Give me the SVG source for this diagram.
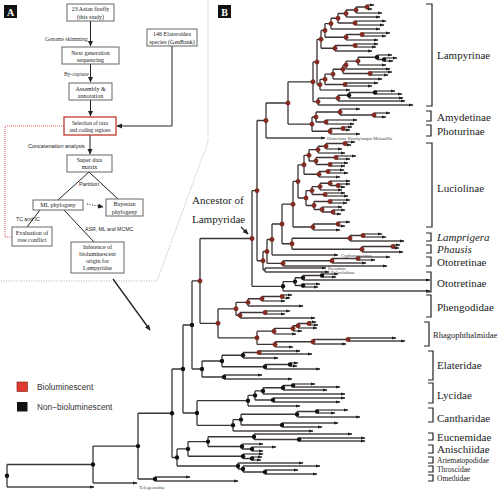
<svg xmlns="http://www.w3.org/2000/svg" width="500" height="500" viewBox="0 0 500 500">
<style>
.e{fill:none;stroke:#3d3535;stroke-width:1.3}
.lf{fill:none;stroke:#4a4444;stroke-width:1.3;marker-end:url(#tip)}
.rn circle{fill:#8a2a20;stroke:#5a1810;stroke-width:.4;r:2.2px}
.bn circle{fill:#111;r:2.2px}
.bx{fill:#fff;stroke:#666;stroke-width:1}
.bt{font-family:"Liberation Serif",serif;font-size:6px;fill:#222;text-anchor:middle}
.bt5{font-size:5.4px}
.sl{font-family:"Liberation Serif",serif;font-size:5.6px;fill:#333}
.ss{font-family:"Liberation Sans",sans-serif;font-size:5.2px;fill:#222}
.ss5{font-size:5.5px}
.ar{fill:none;stroke:#222;stroke-width:1;marker-end:url(#arw)}
.br{fill:none;stroke:#222;stroke-width:1.2}
.fl{font-family:"Liberation Serif",serif;font-size:11px;fill:#222}
.f85{font-size:8.5px}
.f75{font-size:7.5px}
.tl{font-family:"Liberation Serif",serif;font-size:4.5px;fill:#444}
.lg{font-family:"Liberation Sans",sans-serif;font-size:8.3px;fill:#333}
.pl{font-family:"Liberation Serif",serif;font-size:10px;font-weight:bold;fill:#fff;text-anchor:middle}
</style>
<defs>
<marker id="tip" markerUnits="userSpaceOnUse" markerWidth="5" markerHeight="4" refX="4" refY="2" orient="auto"><path d="M0,0.4L4.5,2L0,3.6z" fill="#222"/></marker>
<marker id="arw" markerUnits="userSpaceOnUse" markerWidth="6" markerHeight="6" refX="5" refY="3" orient="auto"><path d="M0,0.5L5.5,3L0,5.5z" fill="#222"/></marker>
</defs>

<!-- Panel A -->
<g id="panelA">
<rect x="4" y="5" width="13" height="13" fill="#111"/><text class="pl" x="10.5" y="15.5">A</text>
<path d="M208,0V142L157,281H0" fill="none" stroke="#999" stroke-width="0.8" stroke-dasharray="1,1.5"/>
<path d="M64,126H5V237H12" fill="none" stroke="#d33" stroke-width="0.8" stroke-dasharray="1,1"/>
</g>
<g id="a-connectors">
<path class="ar" d="M90.5,21V46"/>
<path class="ar" d="M90.5,64V82"/>
<path class="ar" d="M90.5,100V116"/>
<path class="ar" d="M172,46V126H117"/>
<path class="ar" d="M90,135V154"/>
<path fill="none" stroke="#222" stroke-width="1" d="M89,172L58,200M89,172L118,199M40,210L27,227M64,210L94,242"/>
<path class="ar" d="M87,204L103,207" stroke-dasharray="1,1.5"/>
<path class="ar" d="M113,279L150,330" style="stroke-width:1.3"/>
<text class="sl" x="45" y="41">Genome skimming</text>
<text class="sl" x="64" y="76">By-capture</text>
<text class="ss ss5" x="28" y="148">Concatenation analysis</text>
<text class="ss ss5" x="79" y="186">Partition</text>
<text class="ss" x="16" y="221">TC and IC</text>
<text class="ss" x="85" y="231">ASR, ML and MCMC</text>
</g>
<g id="n-asian"><rect class="bx" x="67" y="4" width="47" height="17"/><text class="bt" x="90.5" y="11">23 Asian firefly</text><text class="bt" x="90.5" y="18.5">(this study)</text></g>
<g id="n-ngs"><rect class="bx" x="62" y="47" width="57" height="17"/><text class="bt" x="90.5" y="54.5">Next generation</text><text class="bt" x="90.5" y="62">sequencing</text></g>
<g id="n-assembly"><rect class="bx" x="69" y="83" width="43" height="17"/><text class="bt" x="90.5" y="90.5">Assembly &amp;</text><text class="bt" x="90.5" y="98">annotation</text></g>
<g id="n-selection"><rect x="64" y="117" width="52" height="18" fill="#fff" stroke="#c0392b" stroke-width="1.3"/><text class="bt bt5" x="90" y="125">Selection of taxa</text><text class="bt bt5" x="90" y="132">and coding regions</text></g>
<g id="n-genbank"><rect class="bx" x="147" y="29" width="50" height="17"/><text class="bt" x="172" y="35.5">146 Elateroidea</text><text class="bt" x="172" y="43.5">species (GenBank)</text></g>
<g id="n-matrix"><rect class="bx" x="67" y="155" width="45" height="17"/><text class="bt" x="89.5" y="161.5">Super data</text><text class="bt" x="89.5" y="169">matrix</text></g>
<g id="n-ml"><rect class="bx" x="33" y="200" width="50" height="10"/><text class="bt" x="58" y="207">ML phylogeny</text></g>
<g id="n-bayes"><rect class="bx" x="106" y="199" width="37" height="17"/><text class="bt" x="124.5" y="206">Bayesian</text><text class="bt" x="124.5" y="213.5">phylogeny</text></g>
<g id="n-eval"><rect class="bx" x="12" y="227" width="40" height="19"/><text class="bt" x="32" y="234.5">Evaluation of</text><text class="bt" x="32" y="242">tree conflict</text></g>
<g id="n-infer"><rect class="bx" x="71" y="242" width="53" height="31"/><text class="bt" x="97.5" y="249">Inference of</text><text class="bt" x="97.5" y="256">bioluminescent</text><text class="bt" x="97.5" y="263">origin for</text><text class="bt" x="97.5" y="270">Lampyridae</text></g>

<!-- Legend -->
<g id="legend">
<rect x="17" y="382" width="10.5" height="9.5" fill="#e03a32" stroke="#7a1a14" stroke-width="0.6"/>
<text class="lg" x="37" y="389.5">Bioluminescent</text>
<rect x="17" y="402" width="10.5" height="9.5" fill="#111"/>
<text class="lg" x="37" y="409.5">Non−bioluminescent</text>
</g>

<!-- Panel B -->
<g id="panelB">
<rect x="218" y="5" width="13" height="13" fill="#111"/><text class="pl" x="224.5" y="15.5">B</text>
</g>

<g id="tree-connectors">
<path class="e" d="M367,5V9M356,7V13M356,7H367M346,10V17M346,10H356M355,21V25M338,13.5V23M338,13.5H346M338,23H355M331,18.25V29M331,18.25H338M362,33V36M346,34.5V40M346,34.5H362M325,23.6V37.25M325,23.6H331M325,37.25H346M355,44V47M335,45.5V51M335,45.5H355M321,30.4V48.25M321,30.4H325M321,48.25H335M384,58V61M377,55V59.5M377,59.5H384M358,57.25V65M358,57.25H377M346,61.1V69M346,61.1H358M370,72V75M343,65V73.5M343,65H346M343,73.5H370M333,69.25V79M333,69.25H343M345,83V86M325,74.1V84.5M325,74.1H333M325,84.5H345M320,79.3V90M320,79.3H325M317,39.3V84.6M317,39.3H321M317,84.6H320M375,91V94M349,92.5V98M349,92.5H375M338,95.25V101M338,95.25H349M318,98.1V105M318,98.1H338M313,62V101.6M313,62H317M313,101.6H318"/>
<path class="e" d="M374,113V117M340,109V115M340,115H374M326,120V124M316,112V122M316,112H340M316,122H326M343,127V130M330,128.5V134M330,128.5H343M312,117V131.25M312,117H316M312,131.25H330M288,81.8V124.1M288,81.8H313M288,124.1H312M266,103V138M266,103H288"/>
<path class="e" d="M345,142V145M326,143.5V149M326,143.5H345M318,146.25V153M318,146.25H326M336,156V159M330,163V166M316,157.5V164.5M316,157.5H336M316,164.5H330M309,149.6V161M309,149.6H318M309,161H316M328,170V173M319,171.5V177M319,171.5H328M304,155.3V174.25M304,155.3H309M304,174.25H319M338,184V187M330,181V185.5M330,185.5H338M320,183.25V190M320,183.25H330M325,193V196M312,186.6V194.5M312,186.6H320M312,194.5H325M330,200V203M333,210V214M322,207V212M322,212H333M314,201.5V209.5M314,201.5H330M314,209.5H322M306,190.6V205.5M306,190.6H312M306,205.5H314M298,164.8V198M298,164.8H304M298,198H306M338,222V226M313,224V230M313,224H338M293,181.4V227M293,181.4H298M293,227H313"/>
<path class="e" d="M363,234V237M350,235.5V241M350,235.5H363M393,245V248M362,246.5V252M362,246.5H393M292,238.25V249.25M292,238.25H350M292,249.25H362M282,204.2V243.75M282,204.2H293M282,243.75H292M272,224V255M272,224H282M358,257V260M332,258.5V263M332,258.5H358M283,260.75V266M283,260.75H332M267,239.5V263.4M267,239.5H272M267,263.4H283M265,268V272M263,251.5V270M263,251.5H267M263,270H265M257,120.5V260.75M257,120.5H266M257,260.75H263M322,274V277M303,275.5V280M303,275.5H322M303,284V287M295,277.75V285.5M295,277.75H303M295,285.5H303M283,281.6V291M283,281.6H295M252,190.6V286.3M252,190.6H257M252,286.3H283"/>
<path class="e" d="M282,295V298M262,296.5V301M262,296.5H282M248,298.75V306M248,298.75H262M265,311V314M240,312.5V318M240,312.5H265M236,302.4V315.25M236,302.4H248M236,315.25H240M309,322V325M298,323.5V328M298,323.5H309M293,325.75V331M293,325.75H298M274,328.4V334M274,328.4H293M348,338V341M313,339.5V344M313,339.5H348M275,341.75V347M275,341.75H313M257,331.2V344.4M257,331.2H274M257,344.4H275M218,308.8V337.8M218,308.8H236M218,337.8H257M200,238.5V323.3M200,238.5H252M200,323.3H218"/>
<path class="e" d="M259,351V354M243,352.5V358M243,352.5H259M290,363V366M265,364.5V369M265,364.5H290M222,355.25V366.75M222,355.25H243M222,366.75H265M224,375V379M202,361V377M202,361H222M202,377H224M192,280.9V369M192,280.9H200M192,369H202"/>
<path class="e" d="M293,384V387M283,385.5V390M283,385.5H293M263,387.75V394M263,387.75H283M273,398V402M255,390.9V400M255,390.9H263M255,400H273M248,395.4V406M248,395.4H255M317,410V413M297,411.5V417M297,411.5H317M282,423V427M241,414.25V425M241,414.25H297M241,425H282M233,419.6V431M233,419.6H241M197,400.7V425.3M197,400.7H248M197,425.3H233M183,325V413M183,325H192M183,413H197"/>
<path class="e" d="M299,438V441M254,434V439.5M254,439.5H299M252,447V451M242,444V449M242,449H252M208,436.75V446.5M208,436.75H254M208,446.5H242M252,457V460M243,454V458.5M243,458.5H252M188,441.6V456.25M188,441.6H208M188,456.25H243M265,470V474M243,466V472M243,472H265M238,463V469M238,469H243M177,448.9V466M177,448.9H188M177,466H238M172,369V457.5M172,369H183M172,457.5H177M155,477V481M138,413.25V479M138,413.25H172M138,479H155M93,446.1V483M93,446.1H138M7,464.5V487M7,464.5H93"/>
</g>

<g id="tree-leaves" class="lf">
<path d="M367,5H374"/><path d="M367,9H372"/><path d="M356,13H382"/><path d="M346,17H380"/><path d="M355,21H386"/><path d="M355,25H384"/><path d="M331,29H380"/><path d="M362,33H390"/><path d="M362,36H386"/><path d="M346,40H378"/><path d="M355,44H378"/><path d="M355,47H376"/><path d="M335,51H372"/><path d="M377,55H392"/><path d="M384,58H397"/><path d="M384,61H393"/><path d="M358,65H386"/><path d="M346,69H390"/><path d="M370,72H392"/><path d="M370,75H388"/><path d="M333,79H382"/><path d="M345,83H378"/><path d="M345,86H372"/><path d="M320,90H350"/><path d="M375,91H395"/><path d="M375,94H402"/><path d="M349,98H403"/><path d="M338,101H405"/><path d="M318,105H413"/>
<path d="M374,113H390"/><path d="M374,117H386"/><path d="M340,109H360"/><path d="M326,120H357"/><path d="M326,124H354"/><path d="M343,127H352"/><path d="M343,130H350"/><path d="M330,134H360"/><path d="M266,138H325"/>
<path d="M345,142H355"/><path d="M345,145H351"/><path d="M326,149H342"/><path d="M318,153H345"/><path d="M336,156H356"/><path d="M336,159H350"/><path d="M330,163H348"/><path d="M330,166H345"/><path d="M328,170H344"/><path d="M328,173H348"/><path d="M319,177H340"/><path d="M338,184H350"/><path d="M338,187H345"/><path d="M330,181H350"/><path d="M320,190H342"/><path d="M325,193H345"/><path d="M325,196H348"/><path d="M330,200H350"/><path d="M330,203H347"/><path d="M333,210H345"/><path d="M333,214H341"/><path d="M322,207H342"/><path d="M338,222H350"/><path d="M338,226H345"/><path d="M313,230H340"/>
<path d="M363,234H382"/><path d="M363,237H386"/><path d="M350,241H404"/><path d="M393,245H400"/><path d="M393,248H399"/><path d="M362,252H403"/><path d="M272,255H338"/><path d="M358,257H390"/><path d="M358,260H375"/><path d="M332,263H366"/><path d="M283,266H387"/><path d="M265,268H326"/><path d="M265,272H329"/><path d="M322,274H338"/><path d="M322,277H336"/><path d="M303,280H430"/><path d="M303,284H320"/><path d="M303,287H318"/><path d="M283,291H430"/>
<path d="M282,295H292"/><path d="M282,298H290"/><path d="M262,301H285"/><path d="M248,306H303"/><path d="M265,311H290"/><path d="M265,314H285"/><path d="M240,318H315"/><path d="M309,322H316"/><path d="M309,325H318"/><path d="M298,328H317"/><path d="M293,331H302"/><path d="M274,334H296"/><path d="M348,338H396"/><path d="M348,341H405"/><path d="M313,344H346"/><path d="M275,347H293"/>
<path d="M259,351H300"/><path d="M259,354H312"/><path d="M243,358H278"/><path d="M290,363H298"/><path d="M290,366H297"/><path d="M265,369H320"/><path d="M224,375H262"/><path d="M224,379H292"/>
<path d="M293,384H315"/><path d="M293,387H340"/><path d="M283,390H327"/><path d="M263,394H345"/><path d="M273,398H345"/><path d="M273,402H340"/><path d="M248,406H300"/><path d="M317,410H348"/><path d="M317,413H335"/><path d="M297,417H360"/><path d="M282,423H338"/><path d="M282,427H322"/><path d="M233,431H313"/>
<path d="M299,438H365"/><path d="M299,441H365"/><path d="M254,434H352"/><path d="M252,447H276"/><path d="M252,451H263"/><path d="M242,444H263"/><path d="M252,457H262"/><path d="M252,460H261"/><path d="M243,454H263"/><path d="M265,470H298"/><path d="M265,474H317"/><path d="M243,466H320"/><path d="M238,463H303"/><path d="M155,477H190"/><path d="M155,481H238"/><path d="M93,483H137"/><path d="M7,487H94"/>
</g>

<g id="nodes-red" class="rn">
<circle cx="367" cy="7"/><circle cx="356" cy="10"/><circle cx="346" cy="13.5"/><circle cx="355" cy="23"/><circle cx="338" cy="18.25"/><circle cx="331" cy="23.6"/><circle cx="362" cy="34.5"/><circle cx="346" cy="37.25"/><circle cx="325" cy="30.4"/><circle cx="355" cy="45.5"/><circle cx="335" cy="48.25"/><circle cx="321" cy="39.3"/><circle cx="358" cy="61.1"/><circle cx="346" cy="65"/><circle cx="370" cy="73.5"/><circle cx="343" cy="69.25"/><circle cx="333" cy="74.1"/><circle cx="345" cy="84.5"/><circle cx="325" cy="79.3"/><circle cx="320" cy="84.6"/><circle cx="317" cy="62"/><circle cx="338" cy="98.1"/><circle cx="318" cy="101.6"/><circle cx="313" cy="81.8"/>
<circle cx="374" cy="115"/><circle cx="340" cy="112"/><circle cx="326" cy="122"/><circle cx="316" cy="117"/><circle cx="343" cy="128.5"/><circle cx="330" cy="131.25"/><circle cx="312" cy="124.1"/><circle cx="288" cy="103"/><circle cx="266" cy="120.5"/>
<circle cx="345" cy="143.5"/><circle cx="326" cy="146.25"/><circle cx="318" cy="149.6"/><circle cx="336" cy="157.5"/><circle cx="330" cy="164.5"/><circle cx="316" cy="161"/><circle cx="309" cy="155.3"/><circle cx="328" cy="171.5"/><circle cx="319" cy="174.25"/><circle cx="304" cy="164.8"/><circle cx="338" cy="185.5"/><circle cx="330" cy="183.25"/><circle cx="320" cy="186.6"/><circle cx="325" cy="194.5"/><circle cx="312" cy="190.6"/><circle cx="330" cy="201.5"/><circle cx="333" cy="212"/><circle cx="322" cy="209.5"/><circle cx="314" cy="205.5"/><circle cx="306" cy="198"/><circle cx="298" cy="181.4"/><circle cx="338" cy="224"/><circle cx="313" cy="227"/><circle cx="293" cy="204.2"/>
<circle cx="363" cy="235.5"/><circle cx="350" cy="238.25"/><circle cx="393" cy="246.5"/><circle cx="362" cy="249.25"/><circle cx="292" cy="243.75"/><circle cx="282" cy="224"/><circle cx="272" cy="239.5"/><circle cx="358" cy="258.5"/><circle cx="332" cy="260.75"/><circle cx="283" cy="263.4"/><circle cx="267" cy="251.5"/><circle cx="263" cy="260.75"/><circle cx="257" cy="190.6"/><circle cx="252" cy="238.5"/>
<circle cx="282" cy="296.5"/><circle cx="262" cy="298.75"/><circle cx="248" cy="302.4"/><circle cx="265" cy="312.5"/><circle cx="240" cy="315.25"/><circle cx="236" cy="308.8"/><circle cx="309" cy="323.5"/><circle cx="298" cy="325.75"/><circle cx="293" cy="328.4"/><circle cx="274" cy="331.2"/><circle cx="348" cy="339.5"/><circle cx="313" cy="341.75"/><circle cx="275" cy="344.4"/><circle cx="257" cy="337.8"/><circle cx="218" cy="323.3"/><circle cx="200" cy="280.9"/><circle cx="259" cy="352.5"/>
</g>
<g id="nodes-black" class="bn">
<circle cx="377" cy="57.25"/><circle cx="384" cy="59.5"/><circle cx="375" cy="92.5"/><circle cx="349" cy="95.25"/>
<circle cx="322" cy="275.5"/><circle cx="303" cy="277.75"/><circle cx="303" cy="285.5"/><circle cx="295" cy="281.6"/><circle cx="283" cy="286.3"/>
<circle cx="243" cy="355.25"/><circle cx="290" cy="364.5"/><circle cx="265" cy="366.75"/><circle cx="222" cy="361"/><circle cx="224" cy="377"/><circle cx="202" cy="369"/><circle cx="192" cy="325"/>
<circle cx="293" cy="385.5"/><circle cx="283" cy="387.75"/><circle cx="263" cy="390.9"/><circle cx="273" cy="400"/><circle cx="255" cy="395.4"/><circle cx="248" cy="400.7"/><circle cx="317" cy="411.5"/><circle cx="297" cy="414.25"/><circle cx="282" cy="425"/><circle cx="241" cy="419.6"/><circle cx="233" cy="425.3"/><circle cx="197" cy="413"/><circle cx="183" cy="369"/>
<circle cx="299" cy="439.5"/><circle cx="254" cy="436.75"/><circle cx="252" cy="449"/><circle cx="242" cy="446.5"/><circle cx="208" cy="441.6"/><circle cx="252" cy="458.5"/><circle cx="243" cy="456.25"/><circle cx="188" cy="448.9"/><circle cx="265" cy="472"/><circle cx="243" cy="469"/><circle cx="238" cy="466"/><circle cx="177" cy="457.5"/><circle cx="172" cy="413.25"/><circle cx="155" cy="479"/><circle cx="138" cy="446.1"/><circle cx="93" cy="464.5"/><circle cx="7" cy="475.8"/>
</g>

<g id="tip-labels">
<text class="tl" x="327" y="140" style="font-size:4.4px">Ototretinae Brachylampis Malosdilla</text>
<text class="tl" x="341" y="256.5" style="font-size:4.8px">Cyphonocerinae</text>
<text class="tl" x="328" y="269.5">Pterotinae</text>
<text class="tl" x="331" y="274">Psilocladinae</text>
<text class="tl" x="139" y="488.5" style="font-size:5px">Telegeusidae</text>
</g>

<g id="ancestor">
<text class="fl" x="192" y="204">Ancestor of</text>
<text class="fl" x="192" y="223">Lampyridae</text>
<path class="ar" d="M241,227L248,234" style="stroke-width:1.2"/>
</g>

<g id="clades">
<path class="br" d="M426,4H432V106H426"/>
<path class="br" d="M426,111H431V121H426"/>
<path class="br" d="M426,125H431V136H426"/>
<path class="br" d="M426,143H432V227H426"/>
<path class="br" d="M426,233H431V241H426"/>
<path class="br" d="M426,245H431V253H426"/>
<path class="br" d="M426,257H431V266H426"/>
<path class="br" d="M426,272H431V292H426"/>
<path class="br" d="M426,295H431V317H426"/>
<path class="br" d="M424,322H429V346H424"/>
<path class="br" d="M428,351H433V380H428"/>
<path class="br" d="M428,383H433V403H428"/>
<path class="br" d="M428,408H433V422H428"/>
<path class="br" d="M428,433H433V440H428"/>
<path class="br" d="M428,445H433V453H428"/>
<path class="br" d="M428,457H433V463H428"/>
<path class="br" d="M428,466H433V472H428"/>
<path class="br" d="M428,475H433V481H428"/>
<text class="fl" x="437" y="59">Lampyrinae</text>
<text class="fl" x="437" y="121">Amydetinae</text>
<text class="fl" x="437" y="135">Photurinae</text>
<text class="fl" x="437" y="192">Luciolinae</text>
<text class="fl" x="437" y="241" font-style="italic">Lamprigera</text>
<text class="fl" x="437" y="253" font-style="italic">Phausis</text>
<text class="fl" x="437" y="266">Ototretinae</text>
<text class="fl" x="437" y="287">Ototretinae</text>
<text class="fl" x="437" y="311">Phengodidae</text>
<text class="fl f85" x="433" y="337.5">Rhagophthalmidae</text>
<text class="fl" x="437" y="369">Elateridae</text>
<text class="fl" x="437" y="399">Lycidae</text>
<text class="fl" x="437" y="422">Cantharidae</text>
<text class="fl" x="437" y="441">Eucnemidae</text>
<text class="fl" x="437" y="453">Anischiidae</text>
<text class="fl f75" x="437" y="462.5">Artematopodidae</text>
<text class="fl f75" x="437" y="471.5">Throscidae</text>
<text class="fl f75" x="437" y="480.5">Omethidae</text>
</g>
</svg>
